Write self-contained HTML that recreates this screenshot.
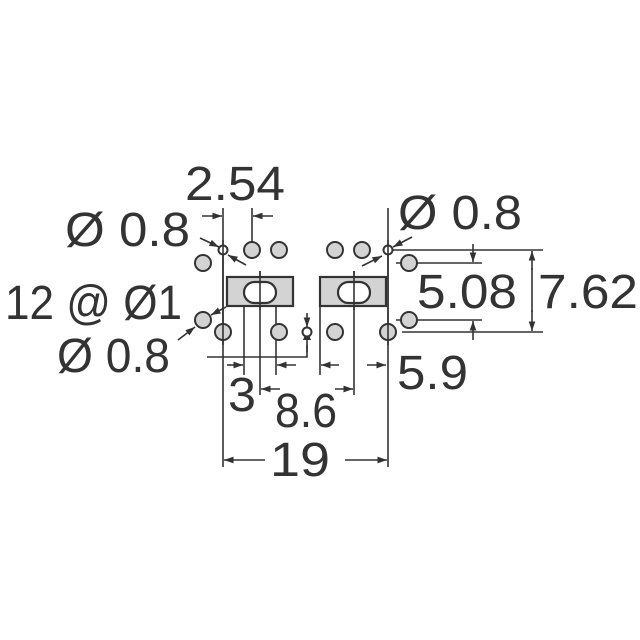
<!DOCTYPE html>
<html><head><style>body{margin:0;background:#fff}svg{display:block}text{font-family:"Liberation Sans",sans-serif;fill:#333;font-size:48px}</style></head><body>
<svg width="640" height="640" viewBox="0 0 640 640">
<defs><marker id="a" viewBox="0 0 10 10" refX="10" refY="5" markerWidth="6" markerHeight="6" orient="auto-start-reverse"><path d="M0,1.5L10,5L0,8.5z" fill="#333"/></marker></defs>
<g stroke="#333" stroke-width="1.6" fill="none">
<line x1="223" y1="208" x2="223" y2="467"/><line x1="388" y1="208" x2="388" y2="467"/>
<line x1="252" y1="208" x2="252" y2="243"/>
<line x1="260" y1="271" x2="260" y2="395"/><line x1="354" y1="271" x2="354" y2="395"/>
<line x1="244" y1="300" x2="244" y2="375"/><line x1="276" y1="300" x2="276" y2="375"/><line x1="320" y1="306" x2="320" y2="375"/>
<polyline points="207,357 307,357 307,345"/>
<line x1="392" y1="250" x2="543" y2="250"/><line x1="396" y1="263" x2="482" y2="263"/><line x1="396" y1="320" x2="482" y2="320"/><line x1="402" y1="332" x2="543" y2="332"/>
</g>
<g stroke="#333" stroke-width="1.6" marker-end="url(#a)">
<line x1="202" y1="216" x2="222" y2="216"/><line x1="273" y1="216" x2="253" y2="216"/>
<line x1="200" y1="238" x2="219" y2="247"/><line x1="246" y1="265" x2="228" y2="255"/>
<line x1="226" y1="307" x2="211" y2="315"/><line x1="178" y1="340" x2="195" y2="327"/>
<line x1="412" y1="237" x2="393" y2="247"/><line x1="362" y1="266" x2="382" y2="256"/>
<line x1="307" y1="313" x2="307" y2="327"/>
<line x1="227" y1="365" x2="243" y2="365"/><line x1="296" y1="365" x2="277" y2="365"/>
<line x1="339" y1="365" x2="321" y2="365"/><line x1="367" y1="365" x2="386" y2="365"/>
<line x1="280" y1="389" x2="261" y2="389"/><line x1="335" y1="389" x2="353" y2="389"/>
<line x1="265" y1="460" x2="224" y2="460"/><line x1="345" y1="460" x2="387" y2="460"/>
<line x1="473" y1="244" x2="473" y2="262"/><line x1="473" y1="340" x2="473" y2="321"/>
<line x1="532" y1="270" x2="532" y2="251"/><line x1="532" y1="310" x2="532" y2="331"/>
</g>
<line x1="532" y1="268" x2="532" y2="312" stroke="#333" stroke-width="1.6"/>
<line x1="307" y1="352" x2="307" y2="338" stroke="#333" stroke-width="1.6"/>
<polygon points="303,340 307,330 311,340" fill="#333"/>
<g stroke="#333" stroke-width="2.2" fill="#d3d3d3">
<rect x="227" y="277" width="66" height="29"/><rect x="320" y="277" width="66" height="29"/>
</g>
<g stroke="#333" stroke-width="2.2" fill="#fff">
<rect x="244" y="282" width="32" height="21" rx="10.5"/><rect x="338" y="282" width="32" height="21" rx="10.5"/>
</g>
<line x1="260" y1="271" x2="260" y2="310" stroke="#333" stroke-width="1.6"/><line x1="354" y1="271" x2="354" y2="310" stroke="#333" stroke-width="1.6"/>
<g stroke="#333" stroke-width="2" fill="#d3d3d3">
<circle cx="252" cy="250" r="8"/><circle cx="279" cy="250" r="8"/><circle cx="203" cy="263" r="8"/>
<circle cx="335" cy="250" r="8"/><circle cx="362" cy="250" r="8"/><circle cx="409" cy="263" r="8"/>
<circle cx="203" cy="320" r="8"/><circle cx="223" cy="332" r="8"/><circle cx="279" cy="332" r="8"/>
<circle cx="335" cy="332" r="8"/><circle cx="388" cy="332" r="8"/><circle cx="409" cy="320" r="8"/>
</g>
<g stroke="#333" stroke-width="2" fill="#fff">
<circle cx="223" cy="250" r="4.5"/><circle cx="388" cy="250" r="4.5"/><circle cx="307" cy="332" r="4.5"/>
</g>
<line x1="223" y1="240" x2="223" y2="345" stroke="#333" stroke-width="1.6"/><line x1="388" y1="240" x2="388" y2="345" stroke="#333" stroke-width="1.6"/>
<text x="185" y="200" textLength="100" lengthAdjust="spacingAndGlyphs">2.54</text>
<text x="65" y="246" textLength="125" lengthAdjust="spacingAndGlyphs">Ø 0.8</text>
<text x="5" y="319" textLength="177" lengthAdjust="spacingAndGlyphs">12 @ Ø1</text>
<text x="57" y="372" textLength="113" lengthAdjust="spacingAndGlyphs">Ø 0.8</text>
<text x="398" y="229" textLength="124" lengthAdjust="spacingAndGlyphs">Ø 0.8</text>
<text x="417" y="308" textLength="100" lengthAdjust="spacingAndGlyphs">5.08</text>
<text x="538" y="308" textLength="100" lengthAdjust="spacingAndGlyphs">7.62</text>
<text x="228" y="411" textLength="28" lengthAdjust="spacingAndGlyphs">3</text>
<text x="275" y="427" textLength="62" lengthAdjust="spacingAndGlyphs">8.6</text>
<text x="397" y="389" textLength="71" lengthAdjust="spacingAndGlyphs">5.9</text>
<text x="270" y="476" textLength="60" lengthAdjust="spacingAndGlyphs">19</text>
</svg>
</body></html>
